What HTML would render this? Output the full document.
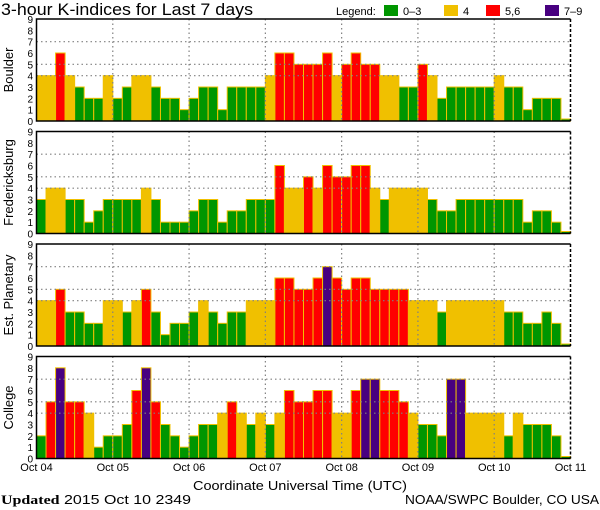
<!DOCTYPE html>
<html><head><meta charset="utf-8">
<style>
html,body{margin:0;padding:0;background:#fff;}
svg{display:block;font-family:"Liberation Sans",sans-serif;}
</style></head>
<body>
<svg id="chart" width="600" height="510" viewBox="0 0 600 510" xmlns="http://www.w3.org/2000/svg">
<text x="1" y="15" font-size="17" fill="#000" textLength="252" lengthAdjust="spacingAndGlyphs">3-hour K-indices for Last 7 days</text>
<g font-size="11">
  <text x="336" y="15">Legend:</text>
  <rect x="384" y="5" width="14" height="11" fill="#009600"/>
  <text x="403" y="15">0–3</text>
  <rect x="444" y="5" width="14" height="11" fill="#f0c000"/>
  <text x="463" y="15">4</text>
  <rect x="486" y="5" width="14" height="11" fill="#ff0000"/>
  <text x="505" y="15">5,6</text>
  <rect x="545" y="5" width="14" height="11" fill="#480080"/>
  <text x="564" y="15">7–9</text>
</g>
<g id="panels"></g>
<text x="193" y="490" font-size="13" textLength="214" lengthAdjust="spacingAndGlyphs">Coordinate Universal Time (UTC)</text>
<text x="1" y="504" font-size="13" textLength="190" lengthAdjust="spacingAndGlyphs"><tspan font-weight="bold" font-family="Liberation Serif,serif">Updated</tspan> 2015 Oct 10 2349</text>
<text x="405" y="504" font-size="13" textLength="194" lengthAdjust="spacingAndGlyphs">NOAA/SWPC Boulder, CO USA</text>
</svg>
<script>
const stations = ["Boulder","Fredericksburg","Est. Planetary","College"];
const dayLabels = ["Oct 04","Oct 05","Oct 06","Oct 07","Oct 08","Oct 09","Oct 10","Oct 11"];
const yTicks = [0,1,2,3,4,5,6,7,8,9];
const boulder = [4,4,6,4,3,2,2,4, 2,3,4,4,3,2,2,1, 2,3,3,1,3,3,3,3, 4,6,6,5,5,5,6,4, 5,6,5,5,4,4,3,3, 5,4,2,3,3,3,3,3, 4,3,3,1,2,2,2,0];
const fredericksburg = [3,4,4,3,3,1,2,3, 3,3,3,4,3,1,1,1, 2,3,3,1,2,2,3,3, 3,6,4,4,5,4,6,5, 5,6,6,4,3,4,4,4, 4,3,2,2,3,3,3,3, 3,3,3,1,2,2,1,0];
const planetary = [4,4,5,3,3,2,2,4, 4,3,4,5,3,1,2,2, 3,4,3,2,3,3,4,4, 4,6,6,5,5,6,7,6, 5,6,6,5,5,5,5,4, 4,4,3,4,4,4,4,4, 4,3,3,2,2,3,2,0];
const college = [2,5,8,5,5,4,1,2, 2,3,6,8,5,3,2,1, 2,3,3,4,5,4,3,4, 3,4,6,5,5,6,6,4, 4,6,7,7,6,6,5,4, 3,3,2,7,7,4,4,4, 4,2,4,3,3,3,2,0];
const series = [boulder, fredericksburg, planetary, college];

const NS="http://www.w3.org/2000/svg";
const X0=36.5, X1=570.5, N=56;
const panelTops=[19,131.5,244,356.5], PH=102;
function xScale(i){return X0+(X1-X0)*i/N;}
function yScale(v,top){return top+PH-v*PH/9;}
function color(v){return v<=3?"#009600":v==4?"#f0c000":v<=6?"#ff0000":"#480080";}
function mk(tag,attrs,parent){const e=document.createElementNS(NS,tag);for(const k in attrs)e.setAttribute(k,attrs[k]);parent.appendChild(e);return e;}
const root=document.getElementById("panels");
stations.forEach((name,p)=>{
  const top=panelTops[p], bot=top+PH;
  const g=mk("g",{},root);
  
  
  series[p].forEach((v,i)=>{
    const x=xScale(i), w=xScale(i+1)-x;
    let y=yScale(v,top); if(bot-y<2)y=bot-2;
    const r=mk("rect",{x:x,y:y,width:w,height:bot-y,fill:color(v),stroke:"#f0c000","stroke-width":1},g);
    
    
  });
  [4,5,7].forEach(v=>{
    const l=mk("line",{x1:X0,x2:X1,y1:yScale(v,top),y2:yScale(v,top),stroke:"#808080","stroke-dasharray":"1.5,3","stroke-width":1.2},g);
    
    
  });
  for(let d=1;d<7;d++){
    const x=xScale(d*8);
    const l=mk("line",{x1:x,x2:x,y1:top,y2:bot,stroke:"#808080","stroke-dasharray":"1.5,3","stroke-width":1.2},g);
    
    
  }
  const f=mk("path",{d:`M${X1},${top}H${X0}V${bot}H${X1}`,fill:"none",stroke:"#000","stroke-width":1.5},g);
  
  
  const rb=mk("line",{x1:X1,x2:X1,y1:top,y2:bot,stroke:"#000","stroke-width":1.5,"stroke-dasharray":"3,2"},g);
  
  
  yTicks.forEach(t=>{
    const tx=mk("text",{x:33,y:yScale(t,top)+4,"font-size":10,"text-anchor":"end"},g);
    tx.textContent=t;
    
    
  });
  const yl=mk("text",{x:0,y:0,"font-size":13,"text-anchor":"middle",transform:`translate(13,${top+PH/2}) rotate(-90)`},g);
  yl.textContent=name;
  
  
});
dayLabels.forEach((lab,d)=>{
  const t=mk("text",{x:xScale(d*8),y:471,"font-size":11,"text-anchor":"middle"},root);
  t.textContent=lab;
  
  
});
</script>
</body></html>
